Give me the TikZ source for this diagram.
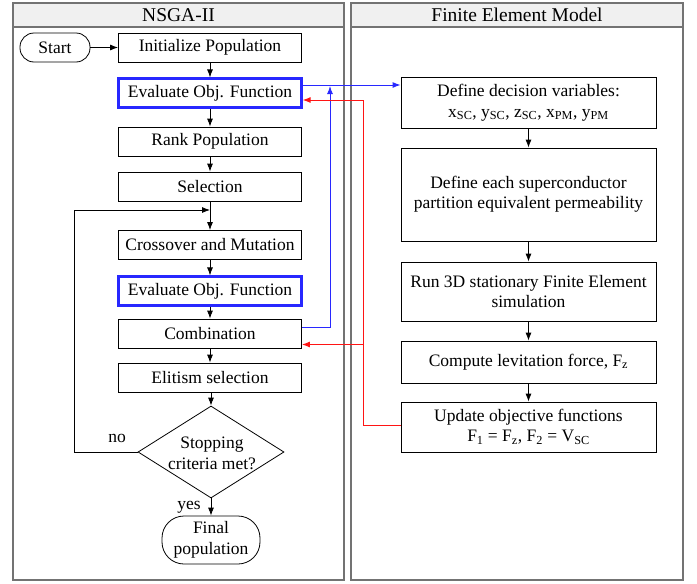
\documentclass[tikz,border=0pt]{standalone}
\usepackage{fontspec}
\setmainfont{Liberation Serif}
\usetikzlibrary{shapes.geometric,arrows.meta}
\definecolor{myblue}{RGB}{40,40,255}
\definecolor{myred}{RGB}{255,20,20}
\begin{document}
\begin{tikzpicture}[x=1pt,y=-1pt,
  panel/.style={draw=black!55,line width=1.3pt},
  hdr/.style={font=\fontsize{19.5}{22}\selectfont},
  box/.style={draw,line width=0.8pt,minimum width=183pt,minimum height=29pt,inner sep=0pt,font=\fontsize{17.5}{20}\selectfont,align=center},
  bbox/.style={box,draw=myblue,line width=2.2pt},
  rbox/.style={box,minimum width=255pt},
  term/.style={draw,line width=0.8pt,inner sep=0pt,align=center,font=\fontsize{17.5}{20}\selectfont},
  arr/.style={-{Latex[length=8pt,width=6pt]},line width=0.8pt},
  bluearr/.style={-{Latex[length=8pt,width=6pt]},color=myblue,line width=1pt},
  redarr/.style={-{Latex[length=8pt,width=6pt]},color=myred,line width=1pt},
  lbl/.style={font=\fontsize{17.5}{20}\selectfont}
]
\useasboundingbox (0,0) rectangle (697,584);
% panels
\draw[panel] (13,3) rectangle (344,580);
\draw[panel,fill=black!6] (13,3) rectangle (344,27);
\draw[panel] (351,3) rectangle (683,580);
\draw[panel,fill=black!6] (351,3) rectangle (683,27);
\node[hdr] (h1) at (178.5,15) {NSGA-II};
\node[hdr] (h2) at (517,15) {Finite Element Model};
% left nodes
\node[term,rounded corners=14pt,minimum width=70pt,minimum height=29pt] (start) at (55,47.5) {Start};
\node[box] (init) at (210,47.5) {Initialize Population};
\node[bbox] (eval1) at (210,93) {Evaluate Obj. Function};
\node[box] (rank) at (210,141.5) {Rank Population};
\node[box] (sel) at (210,186.5) {Selection};
\node[box] (cross) at (210,245) {Crossover and Mutation};
\node[bbox] (eval2) at (210,291) {Evaluate Obj. Function};
\node[box] (comb) at (210,333.5) {Combination};
\node[box] (elit) at (210,377.5) {Elitism selection};
\node[draw,line width=0.8pt,diamond,minimum width=146pt,minimum height=92pt,inner sep=0pt] (dia) at (211,452) {};
\node[align=center,inner sep=0pt,font=\fontsize{17.5}{21}\selectfont] (diat) at (212,453) {Stopping\\criteria met?};
\node[term,rounded corners=22pt,minimum width=98pt,minimum height=48pt,font=\fontsize{17.5}{21}\selectfont] (final) at (211,540) {Final\\population};
\node[lbl] (no) at (117,438) {no};
\node[lbl] (yes) at (189,507) {yes};
% left arrows
\draw[arr] (start) -- (init);
\draw[arr] (init) -- (eval1);
\draw[arr] (eval1) -- (rank);
\draw[arr] (rank) -- (sel);
\draw[arr] (sel) -- (cross);
\draw[arr] (cross) -- (eval2);
\draw[arr] (eval2) -- (comb);
\draw[arr] (comb) -- (elit);
\draw[arr] (elit.south -| dia.north) -- (dia.north);
\draw[arr] (dia.south) -- (dia.south |- final.north);
\coordinate (lpx) at (74,210);
\coordinate (lpin) at (210,210);
\draw[line width=0.8pt] (dia.west) -| (lpx);
\draw[arr] (lpx) -- (lpin);
% right nodes
\node[rbox,minimum height=51pt] (dv) at (528.5,102.5) {Define decision variables:\\[1pt]x\textsubscript{SC}, y\textsubscript{SC}, z\textsubscript{SC}, x\textsubscript{PM}, y\textsubscript{PM}};
\node[rbox,minimum height=93pt] (perm) at (528.5,194.5) {Define each superconductor\\partition equivalent permeability};
\node[rbox,minimum height=59pt] (run) at (528.5,291.5) {Run 3D stationary Finite Element\\simulation};
\node[rbox,minimum height=42pt] (comp) at (528.5,362) {Compute levitation force, F\textsubscript{z}};
\node[rbox,minimum height=50pt] (upd) at (528.5,427) {Update objective functions\\F\textsubscript{1} = F\textsubscript{z}, F\textsubscript{2} = V\textsubscript{SC}};
\draw[arr] (dv) -- (perm);
\draw[arr] (perm) -- (run);
\draw[arr] (run) -- (comp);
\draw[arr] (comp) -- (upd);
% cross links
\coordinate (bx) at (330,0);
\coordinate (rx) at (363.5,0);
\draw[bluearr] ([yshift=8pt]eval1.east) coordinate (bs) -- (bs -| dv.west);
\draw[bluearr] ([yshift=6pt]comb.east) -| ([yshift=-1pt]bs -| bx);
\coordinate (r1) at ([yshift=-7pt]eval1.east);
\coordinate (r2) at ([yshift=-11pt]comb.east);
\draw[redarr] ([yshift=2pt]upd.west) -| (rx |- r1) -- (r1);
\draw[redarr] (rx |- r2) -- (r2);
\end{tikzpicture}
\end{document}
